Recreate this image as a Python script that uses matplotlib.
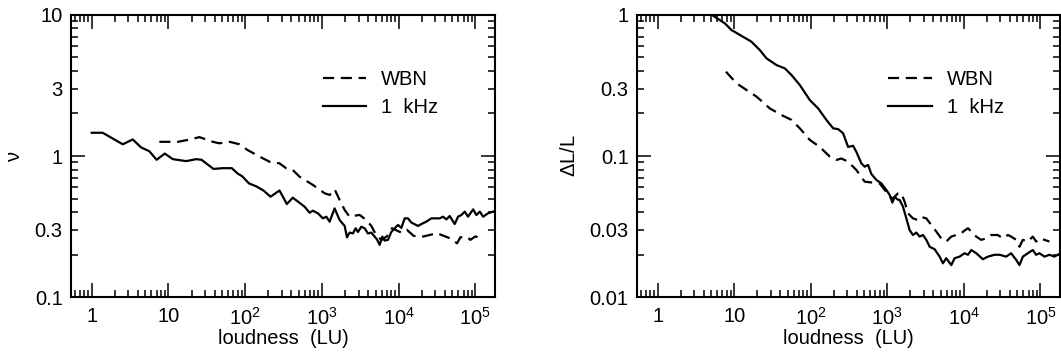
import numpy as np
import matplotlib
matplotlib.use("Agg")
import matplotlib.pyplot as plt
from matplotlib.ticker import LogLocator, FixedLocator, FuncFormatter, NullFormatter

plt.rcParams['font.family'] = ['Liberation Sans', 'DejaVu Sans']
plt.rcParams['mathtext.fontset'] = 'custom'
plt.rcParams['mathtext.rm'] = 'Liberation Sans'
plt.rcParams['mathtext.it'] = 'Liberation Sans'

# ---------------- data: left panel (nu vs loudness) ----------------
nu_1k_L = [1, 1.39, 2.54, 3.42, 4.4, 5.65, 7.0, 8.96, 11.4, 17, 23, 27, 38.6, 51, 67, 80, 91,
           112, 139, 173, 214, 280, 349, 417, 501, 594, 690, 763, 887, 1030, 1140, 1260, 1463,
           1700, 1977, 2120, 2293, 2536, 2748, 2950, 3260, 3600, 3980, 4400, 4860, 5210, 5650,
           6120, 6560, 7250, 8020, 8870, 9800, 10840, 11970, 13240, 14630, 17870, 19770, 22920,
           26680, 34250, 37850, 41860, 46240, 53700, 59380, 65600, 72600, 80200, 93300, 103000,
           114000, 126000, 146000, 170000]
nu_1k = [1.46, 1.46, 1.21, 1.31, 1.15, 1.08, 0.94, 1.04, 0.95, 0.92, 0.95, 0.94, 0.81, 0.82, 0.82,
         0.75, 0.72, 0.64, 0.61, 0.57, 0.515, 0.57, 0.457, 0.507, 0.47, 0.438, 0.397, 0.41, 0.393,
         0.362, 0.372, 0.343, 0.426, 0.352, 0.32, 0.266, 0.287, 0.283, 0.308, 0.29, 0.316, 0.308,
         0.283, 0.287, 0.269, 0.257, 0.235, 0.269, 0.252, 0.255, 0.29, 0.308, 0.325, 0.31, 0.362,
         0.362, 0.338, 0.32, 0.33, 0.343, 0.362, 0.362, 0.372, 0.356, 0.376, 0.33, 0.372, 0.382,
         0.404, 0.372, 0.419, 0.382, 0.404, 0.372, 0.393, 0.404]

nu_wbn_L = [7.6, 13.2, 17.9, 25.4, 37.9, 46, 62.5, 84.4, 108, 154, 208, 280, 343, 417, 511, 763,
            1083, 1260, 1463, 1700, 1977, 2290, 3100, 3790, 4400, 5200, 6000, 7000, 8170, 11000,
            12800, 15700, 20100, 31600, 47200, 57700, 63700, 77700, 86000, 100000, 122000]
nu_wbn = [1.26, 1.26, 1.30, 1.36, 1.26, 1.23, 1.26, 1.21, 1.10, 0.99, 0.91, 0.887, 0.818, 0.796,
          0.714, 0.624, 0.545, 0.53, 0.581, 0.489, 0.415, 0.372, 0.383, 0.352, 0.32, 0.27, 0.255,
          0.27, 0.308, 0.286, 0.30, 0.272, 0.268, 0.284, 0.261, 0.241, 0.266, 0.268, 0.255, 0.27,
          0.257]

# ---------------- data: right panel (dL/L vs loudness) ----------------
dl_1k_L = [5.06, 7.55, 9.2, 11.9, 16.8, 21.6, 26.4, 35.7, 45.8, 56, 71.9, 97, 125, 160, 196, 227,
           264, 307, 357, 394, 458, 506, 560, 618, 719, 835, 971, 1072, 1162, 1247, 1350, 1450,
           1600, 1770, 1955, 2160, 2390, 2640, 2920, 3230, 3570, 4140, 4820, 5320, 5880, 6840,
           7550, 8770, 10200, 11300, 12500, 14500, 17700, 20600, 25100, 29200, 35600, 41400,
           48200, 53200, 58900, 68400, 79400, 87700, 97000, 113000, 131000, 152000, 177000]
dl_1k = [1.0, 0.868, 0.779, 0.718, 0.644, 0.562, 0.491, 0.44, 0.417, 0.374, 0.318, 0.249, 0.217,
         0.18, 0.157, 0.155, 0.145, 0.116, 0.118, 0.107, 0.0887, 0.084, 0.0865, 0.0746, 0.0677,
         0.064, 0.0575, 0.053, 0.0468, 0.0515, 0.0493, 0.0488, 0.0438, 0.0362, 0.0299, 0.0276,
         0.0287, 0.0269, 0.0276, 0.0255, 0.0228, 0.0219, 0.0194, 0.0174, 0.0189, 0.0169, 0.0189,
         0.0194, 0.0205, 0.020, 0.0216, 0.0205, 0.0186, 0.0194, 0.020, 0.020, 0.0194, 0.0205,
         0.0184, 0.0169, 0.0194, 0.0205, 0.0216, 0.020, 0.0205, 0.0194, 0.020, 0.0194, 0.0203]

dl_wbn_L = [7.8, 10.7, 14.5, 19.6, 29.2, 41.4, 56, 71.9, 97, 131, 177, 216, 251, 307, 394, 506,
            618, 794, 923, 1072, 1185, 1377, 1523, 1683, 1860, 2160, 2510, 2770, 3230, 3750, 4360,
            5060, 5880, 6840, 7940, 9220, 10200, 11300, 12500, 14500, 16800, 19500, 22700, 27700,
            32300, 37500, 41400, 48200, 53200, 58900, 68400, 79400, 87700, 97000, 113000, 131000]
dl_wbn = [0.395, 0.327, 0.293, 0.263, 0.217, 0.195, 0.18, 0.157, 0.13, 0.116, 0.099, 0.0938,
          0.096, 0.0912, 0.0796, 0.0658, 0.065, 0.064, 0.0575, 0.0515, 0.050, 0.0544, 0.0544,
          0.0475, 0.0393, 0.0362, 0.0352, 0.037, 0.0362, 0.0325, 0.0292, 0.0261, 0.0248, 0.0269,
          0.0276, 0.0284, 0.0297, 0.0308, 0.0292, 0.0269, 0.0255, 0.0261, 0.0276, 0.0276, 0.0261,
          0.0276, 0.0269, 0.0255, 0.0228, 0.0255, 0.0248, 0.0269, 0.0248, 0.0261, 0.0255, 0.0248]

x_ticks = [1, 10, 100, 1000, 10000, 100000]
x_labels = ['1', '10', r'$10^2$', r'$10^3$', r'$10^4$', r'$10^5$']
left_yticks = [0.1, 0.3, 1, 3, 10]
left_ylabels = ['0.1', '0.3', '1', '3', '10']
right_yticks = [0.01, 0.03, 0.1, 0.3, 1]
right_ylabels = ['0.01', '0.03', '0.1', '0.3', '1']

fig = plt.figure(figsize=(10.61, 3.54), dpi=100)
W, H = 1061, 354
ax1 = fig.add_axes([71 / W, 1 - 297.3 / H, 424 / W, 282.6 / H])
ax2 = fig.add_axes([637 / W, 1 - 297.3 / H, 423 / W, 282.6 / H])

DASH = (0, (5, 3))
FS = 14.5


def style(ax, ylim, yticks, ylabels, ylabel, ylabel_x):
    ax.set_xscale('log')
    ax.set_yscale('log')
    ax.set_xlim(0.537, 1.8e5)
    ax.set_ylim(*ylim)
    ax.xaxis.set_major_locator(FixedLocator(x_ticks))
    ax.xaxis.set_major_formatter(FuncFormatter(lambda v, p: x_labels[x_ticks.index(v)] if v in x_ticks else ''))
    ax.xaxis.set_minor_locator(LogLocator(base=10, subs=np.arange(2, 10), numticks=20))
    ax.xaxis.set_minor_formatter(NullFormatter())
    decades = [t for t in yticks if abs(np.log10(t) - round(np.log10(t))) < 1e-6]
    ax.yaxis.set_major_locator(FixedLocator(decades))
    ax.yaxis.set_minor_locator(LogLocator(base=10, subs=np.arange(2, 10), numticks=20))

    def yfmt(v, p):
        for t, l in zip(yticks, ylabels):
            if abs(v - t) / t < 1e-6:
                return l
        return ''
    ax.yaxis.set_major_formatter(FuncFormatter(yfmt))
    ax.yaxis.set_minor_formatter(FuncFormatter(yfmt))
    ax.tick_params(which='both', direction='in', top=True, right=True, labelsize=FS,
                   width=1.1, colors='black')
    ax.tick_params(which='major', length=10, pad=6)
    ax.tick_params(which='minor', length=5, pad=6)
    ax.tick_params(axis='x', which='major', pad=7)
    for s in ax.spines.values():
        s.set_linewidth(1.5)
    ax.set_xlabel('loudness  (LU)', fontsize=FS, labelpad=0)
    ax.set_ylabel(ylabel, fontsize=FS)
    ax.yaxis.set_label_coords(ylabel_x, 0.5)


ax1.plot(nu_wbn_L, nu_wbn, color='black', lw=1.6, linestyle=DASH, label='WBN')
ax1.plot(nu_1k_L, nu_1k, color='black', lw=1.6, label='1  kHz')
style(ax1, (0.1, 10), left_yticks, left_ylabels, r'$\nu$', -0.111)

ax2.plot(dl_wbn_L, dl_wbn, color='black', lw=1.6, linestyle=DASH, label='WBN')
ax2.plot(dl_1k_L, dl_1k, color='black', lw=1.6, label='1  kHz')
style(ax2, (0.01, 1), right_yticks, right_ylabels, r'$\Delta$L/L', -0.138)

for ax in (ax1, ax2):
    ax.legend(loc='upper left', bbox_to_anchor=(0.575, 0.833), frameon=False, fontsize=FS,
              handlelength=2.15, handletextpad=0.75, labelspacing=0.45, borderaxespad=0)

fig.savefig('out.png', dpi=100)
